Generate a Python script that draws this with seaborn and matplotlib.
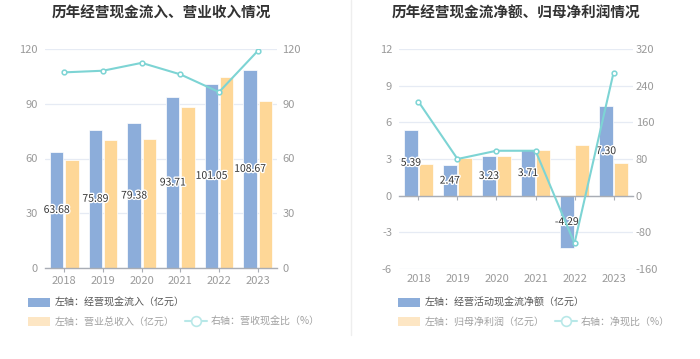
import numpy as np
import pandas as pd
import seaborn as sns
import matplotlib
matplotlib.use('Agg')
import matplotlib.pyplot as plt
import matplotlib.patheffects as pe
from matplotlib.patches import Patch
from matplotlib.lines import Line2D
import matplotlib.transforms as mtransforms

sns.set_theme(style='white')
plt.rcParams['font.family'] = ['Noto Sans CJK SC', 'DejaVu Sans']
plt.rcParams['axes.unicode_minus'] = False

##data
years = ['2018', '2019', '2020', '2021', '2022', '2023']
cash_in = [63.68, 75.89, 79.38, 93.71, 101.05, 108.67]      # 经营现金流入 (亿元)
revenue = [59.4, 70.2, 70.6, 88.3, 104.8, 91.4]             # 营业总收入 (亿元)
cash_ratio = [107.2, 108.1, 112.4, 106.1, 96.4, 118.9]      # 营收现金比 (%)
net_cf = [5.39, 2.47, 3.23, 3.71, -4.29, 7.30]              # 经营活动现金流净额 (亿元)
net_profit = [2.57, 3.05, 3.27, 3.77, 4.13, 2.70]           # 归母净利润 (亿元)
net_ratio = [205, 80, 98, 98, -104, 268]                    # 净现比 (%)

left_ticks = [0, 30, 60, 90, 120]
right_left_ticks = [-6, -3, 0, 3, 6, 9, 12]
right_right_ticks = [-160, -80, 0, 80, 160, 240, 320]

BLUE = '#8cadda'
ORANGE = '#fed797'
TEAL = '#7dd4d4'
GRID = '#e6ebf4'
AXC = '#a9adb5'
TICKC = '#9a9a9a'

W, H = 700, 359
fig = plt.figure(figsize=(7, 3.59), dpi=100)


def box(x0, x1, ytop, ybot):
    return [x0 / W, 1 - ybot / H, (x1 - x0) / W, (ybot - ytop) / H]


def draw_panel(rect, bars_a, bars_b, line, lticks, rticks, title, zero_axis):
    ax = fig.add_axes(rect)
    df = pd.DataFrame({'year': years * 2,
                       'val': bars_a + bars_b,
                       'kind': ['a'] * len(years) + ['b'] * len(years)})
    sns.barplot(data=df, x='year', y='val', hue='kind', hue_order=['a', 'b'],
                palette=[BLUE, ORANGE], saturation=1, width=0.78, gap=0.12,
                edgecolor='white', linewidth=0.5, legend=False, ax=ax)
    ax.set_ylim(lticks[0], lticks[-1])
    ax.set_yticks(lticks)
    ax.set_xlim(-0.5, len(years) - 0.5)
    ax.set_xlabel('')
    ax.set_ylabel('')
    ax.yaxis.grid(True, color=GRID, lw=0.9)
    ax.set_axisbelow(True)
    for s in ['top', 'left', 'right']:
        ax.spines[s].set_visible(False)
    ax.spines['bottom'].set_color(AXC)
    ax.spines['bottom'].set_linewidth(1)
    ax.tick_params(axis='y', length=0, pad=5, labelsize=8, labelcolor=TICKC)
    ax.tick_params(axis='x', length=3, width=0.8, color=AXC, pad=3,
                   labelsize=8, labelcolor=TICKC, direction='out', bottom=True)
    if zero_axis:
        ax.spines['bottom'].set_position(('data', 0))
        ax.tick_params(axis='x', labelbottom=False)
        tr = mtransforms.blended_transform_factory(ax.transData, ax.transAxes)
        for i, yr in enumerate(years):
            ax.text(i, -0.025, yr, transform=tr, ha='center', va='top',
                    fontsize=8, color=TICKC)

    lab = ax.bar_label(ax.containers[0], labels=['%.2f' % v for v in bars_a],
                       label_type='center', fontsize=7.5, color='#333333')
    for t in lab:
        t.set_path_effects([pe.withStroke(linewidth=2, foreground='white')])

    ax2 = ax.twinx()
    sns.lineplot(x=np.arange(len(years)), y=line, ax=ax2, color=TEAL, lw=1.5,
                 marker='o', markersize=3.4, markerfacecolor='white',
                 markeredgecolor=TEAL, markeredgewidth=1.1)
    ax2.set_ylim(rticks[0], rticks[-1])
    ax2.set_yticks(rticks)
    ax2.set_xlim(-0.5, len(years) - 0.5)
    for s in ax2.spines.values():
        s.set_visible(False)
    ax2.tick_params(axis='y', length=0, pad=4 if not zero_axis else 2,
                    labelsize=8, labelcolor=TICKC)
    ax2.set_ylabel('')

    cx = rect[0] + rect[2] / 2
    fig.text(cx, 1 - 13 / H, title, ha='center', va='center', fontsize=10.5,
             fontweight='bold', color='#333333')
    return ax


draw_panel(box(45, 277, 49, 268), cash_in, revenue, cash_ratio,
           left_ticks, [0, 30, 60, 90, 120], '历年经营现金流入、营业收入情况', False)
draw_panel(box(399, 633, 49, 269), net_cf, net_profit, net_ratio,
           right_left_ticks, right_right_ticks, '历年经营现金流净额、归母净利润情况', True)

# separator between panels
fig.add_artist(Line2D([351 / W, 351 / W], [1, 1 - 335 / H], color='#eeeeee', lw=1))


def legends(x0, row1, row2a, row2b, colsp):
    h1 = Patch(facecolor=BLUE, edgecolor='none')
    h2 = Patch(facecolor='#fde6c4', edgecolor='none')
    h3 = Line2D([], [], color='#b8e8e8', lw=1.5, marker='o', markersize=7,
                markerfacecolor='white', markeredgecolor='#b8e8e8', markeredgewidth=1.2)
    kw = dict(loc='center left', frameon=False, fontsize=7.2, handlelength=2.2,
              handleheight=1.0, handletextpad=0.45, borderpad=0, borderaxespad=0)
    l1 = fig.legend([h1], [row1], bbox_to_anchor=(x0 / W, 1 - 303 / H), **kw)
    for t in l1.get_texts():
        t.set_color('#555555')
    l2 = fig.legend([h2, h3], [row2a, row2b], ncol=2, columnspacing=colsp,
                    bbox_to_anchor=(x0 / W, 1 - 322 / H), **kw)
    for t in l2.get_texts():
        t.set_color('#a0a0a0')


legends(28, '左轴：经营现金流入（亿元）', '左轴：营业总收入（亿元）', '右轴：营收现金比（%）', 1.0)
legends(398, '左轴：经营活动现金流净额（亿元）', '左轴：归母净利润（亿元）', '右轴：净现比（%）', 1.0)

fig.savefig('out.png', dpi=100, facecolor='white')
